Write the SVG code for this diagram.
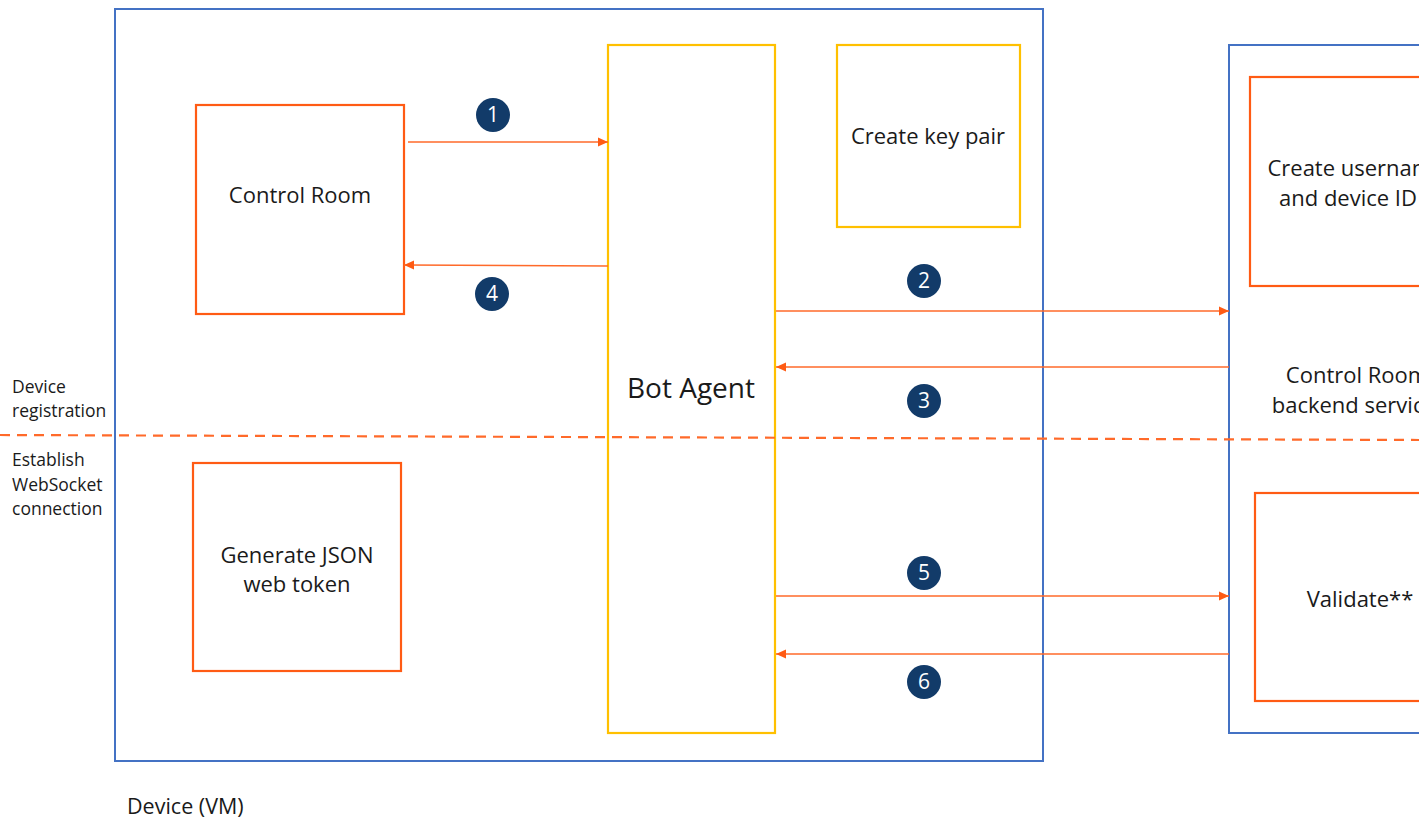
<svg xmlns="http://www.w3.org/2000/svg" width="1419" height="821" viewBox="0 0 1419 821">
<defs>
<style>
.blue{fill:none;stroke:#4472C4;stroke-width:2}
.org{fill:none;stroke:#FF5B14;stroke-width:2.2}
.yel{fill:none;stroke:#FFC000;stroke-width:2.2}
.t{font-family:"Open Sans","Noto Sans",sans-serif;font-size:22px;fill:#1a1a1a;text-anchor:middle}
.lbl{font-family:"Open Sans","Noto Sans",sans-serif;font-size:17.5px;fill:#1a1a1a}
.arr{stroke:#FF6A2A;stroke-width:1.5;fill:none}
.num circle{fill:#123B69}
.num text{font-family:"Open Sans","Noto Sans",sans-serif;font-size:21px;fill:#fff;text-anchor:middle}
</style>
<marker id="ah" viewBox="0 0 10 10" refX="10" refY="5" markerWidth="10" markerHeight="10" markerUnits="userSpaceOnUse" orient="auto">
<path d="M0,0.5 L10,5 L0,9.5 z" fill="#FF5B14"/>
</marker>
</defs>
<rect width="1419" height="821" fill="#fff"/>
<g id="device">
<rect class="blue" x="115" y="9" width="928" height="752"/>
<text class="lbl" x="127" y="814" style="font-size:21.5px">Device (VM)</text>
</g>
<g id="backend">
<rect class="blue" x="1229" y="45" width="260" height="688"/>
<text class="t" x="1357" y="383">Control Room</text>
<text class="t" x="1359" y="413">backend services</text>
</g>
<g id="control-room">
<rect class="org" x="196" y="105" width="208" height="209"/>
<text class="t" x="300" y="203">Control Room</text>
</g>
<g id="bot-agent">
<rect class="yel" x="608" y="45" width="167" height="688"/>
<text class="t" x="691" y="398" style="font-size:28px">Bot Agent</text>
</g>
<g id="key-pair">
<rect class="yel" x="837" y="45" width="183" height="182"/>
<text class="t" x="928" y="144">Create key pair</text>
</g>
<g id="jwt">
<rect class="org" x="193" y="463" width="208" height="208"/>
<text class="t" x="297" y="563">Generate JSON</text>
<text class="t" x="297" y="592">web token</text>
</g>
<g id="create-user">
<rect class="org" x="1250" y="77" width="220" height="209"/>
<text class="t" x="1356" y="176">Create username</text>
<text class="t" x="1348" y="206">and device ID</text>
</g>
<g id="validate">
<rect class="org" x="1255" y="493" width="220" height="208"/>
<text class="t" x="1360" y="607">Validate**</text>
</g>
<g id="phase-labels">
<line x1="0" y1="435" x2="1419" y2="440" stroke="#FF6A2A" stroke-width="2.2" stroke-dasharray="10,7"/>
<text class="lbl" x="12" y="393">Device</text>
<text class="lbl" x="12" y="417">registration</text>
<text class="lbl" x="12" y="466">Establish</text>
<text class="lbl" x="12" y="491">WebSocket</text>
<text class="lbl" x="12" y="515">connection</text>
</g>
<g id="connectors">
<line class="arr" x1="408" y1="142" x2="608" y2="142" marker-end="url(#ah)"/>
<line class="arr" x1="608" y1="266" x2="404" y2="265" marker-end="url(#ah)"/>
<line class="arr" x1="776" y1="311" x2="1229" y2="311" marker-end="url(#ah)"/>
<line class="arr" x1="1229" y1="367" x2="776" y2="367" marker-end="url(#ah)"/>
<line class="arr" x1="776" y1="596" x2="1229" y2="596" marker-end="url(#ah)"/>
<line class="arr" x1="1229" y1="654" x2="776" y2="654" marker-end="url(#ah)"/>
</g>
<g id="steps">
<g class="num"><circle cx="493" cy="115" r="17"/><text x="493" y="122">1</text></g>
<g class="num"><circle cx="924" cy="281" r="17"/><text x="924" y="288">2</text></g>
<g class="num"><circle cx="924" cy="401" r="17"/><text x="924" y="408">3</text></g>
<g class="num"><circle cx="492" cy="294" r="17"/><text x="492" y="301">4</text></g>
<g class="num"><circle cx="924" cy="573" r="17"/><text x="924" y="580">5</text></g>
<g class="num"><circle cx="924" cy="682" r="17"/><text x="924" y="689">6</text></g>
</g>
</svg>
